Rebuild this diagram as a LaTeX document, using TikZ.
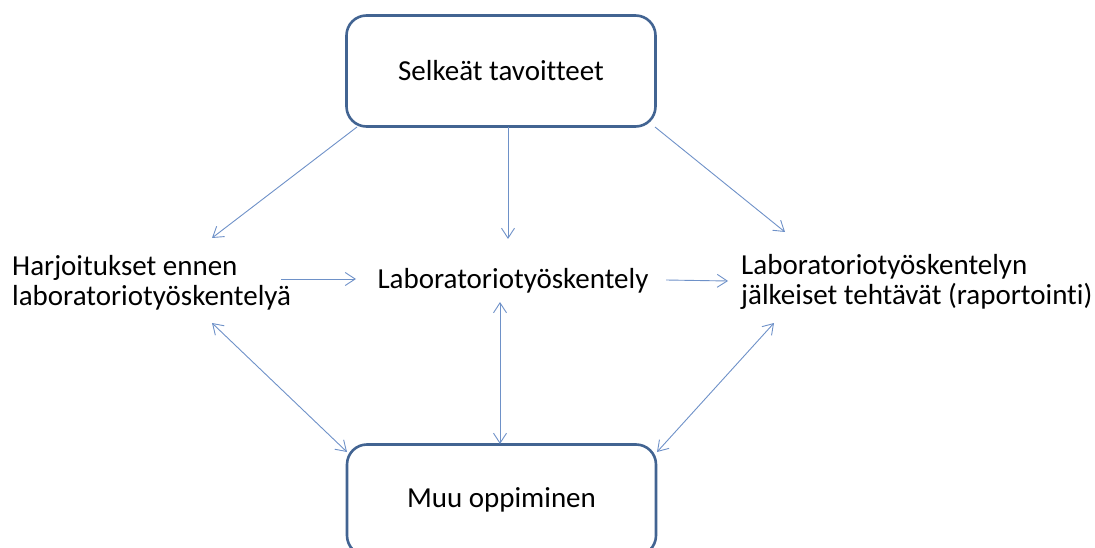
\documentclass[tikz,border=0pt]{standalone}
\usepackage{fontspec}
\setmainfont[Ligatures=NoCommon]{Carlito}
\usetikzlibrary{arrows.meta}
\definecolor{boxline}{RGB}{66,100,146}
\definecolor{arrline}{RGB}{110,145,200}
\tikzset{
  boxnode/.style={draw=boxline, line width=2.6pt, rounded corners=20pt, minimum width=309pt, minimum height=111pt, inner sep=0pt, font=\fontsize{29}{30}\selectfont},
  txt/.style={inner sep=0pt, font=\fontsize{29}{30.5}\selectfont, align=left},
  conn/.style={draw=arrline, line width=0.9pt, -{Straight Barb[length=10pt,width=13pt,line width=0.9pt]}},
  biconn/.style={draw=arrline, line width=0.9pt, {Straight Barb[length=10pt,width=13pt,line width=0.9pt]}-{Straight Barb[length=10pt,width=13pt,line width=0.9pt]}}
}
\begin{document}
\begin{tikzpicture}[x=1pt,y=-1pt]
\useasboundingbox (0,0) rectangle (1095,548);
\clip (0,0) rectangle (1095,548);
\node[boxnode] (top) at (501,71) {Selkeät tavoitteet};
\node[boxnode] (bot) at (501.5,500) {Muu oppiminen};
\node[txt, anchor=west] (harj) at (12,283) {Harjoitukset ennen\\laboratoriotyöskentelyä};
\node[txt] (lab) at (513,281) {Laboratoriotyöskentely};
\node[txt, anchor=west] (jalk) at (741,282) {Laboratoriotyöskentelyn\\jälkeiset tehtävät (raportointi)};
% arrow end points near the text nodes
\coordinate (t1s) at (357,127);
\coordinate (t1e) at (212,238);
\coordinate (t2s) at (508,127);
\coordinate (t2e) at (508,239);
\coordinate (t3s) at (655,127);
\coordinate (t3e) at (785,232);
\coordinate (h1) at (281,279);
\coordinate (l1) at (356,279);
\coordinate (l2) at (666,280);
\coordinate (j1) at (728,281);
\coordinate (hb) at (212,323);
\coordinate (bl) at (347,452);
\coordinate (lb) at (500,302);
\coordinate (bc) at (500,444);
\coordinate (jb) at (774,323);
\coordinate (br) at (657,452);
\draw[conn] (t1s) -- (t1e);
\draw[conn] (t2s) -- (t2e);
\draw[conn] (t3s) -- (t3e);
\draw[conn] (h1) -- (l1);
\draw[conn] (l2) -- (j1);
\draw[biconn] (hb) -- (bl);
\draw[biconn] (lb) -- (bc);
\draw[biconn] (jb) -- (br);
\end{tikzpicture}
\end{document}
